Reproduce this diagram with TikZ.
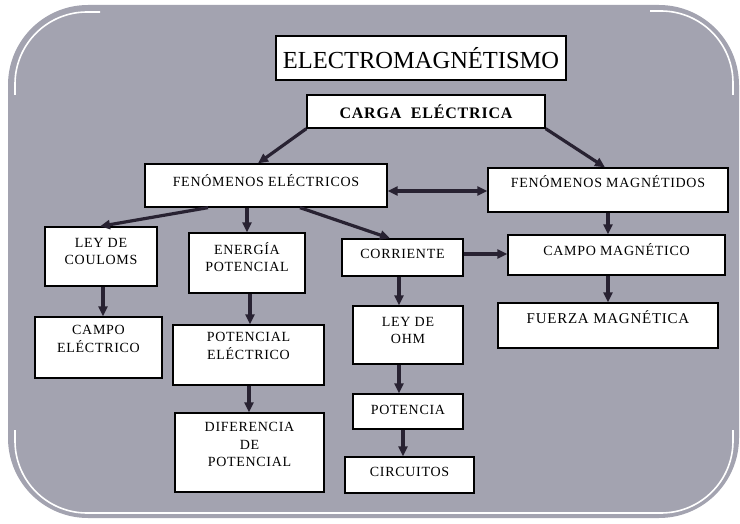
\documentclass[tikz,border=0pt]{standalone}
\usepackage{fontspec}
\setmainfont{Liberation Serif}
\newfontfamily\boxfont[LetterSpace=5]{Liberation Serif}
\usetikzlibrary{arrows.meta}
\definecolor{bggray}{RGB}{163,163,176}
\definecolor{arrcol}{RGB}{40,34,50}
\begin{document}
\begin{tikzpicture}[x=1pt,y=-1pt,
  box/.style={draw=black,line width=1.3pt,fill=white,rectangle,inner sep=0pt},
  lab/.style={align=center,font=\boxfont\fontsize{14}{17.5}\selectfont,text=black,inner sep=0pt},
  arr/.style={draw=arrcol,line width=3.2pt,-{Triangle[length=10pt,width=9pt]}},
  darr/.style={draw=arrcol,line width=3.2pt,{Triangle[length=10pt,width=9pt]}-{Triangle[length=10pt,width=9pt]}},
  hl/.style={draw=white,line width=1.6pt,rounded corners=72pt}]
\useasboundingbox (0,0) rectangle (740,524);
% background panel
\fill[bggray,rounded corners=80pt] (8,5) rectangle (739,518);
\draw[hl] (15,95) -- (15,12) -- (100,12);
\draw[hl] (650,11) -- (733,11) -- (733,95);
\draw[hl] (15,430) -- (15,513) -- (733,513) -- (733,430);

% boxes
\node[box,minimum width=290,minimum height=44,
  label={[lab,font=\fontsize{24.5}{27}\selectfont,yshift=0pt]center:{ELECTROMAGNÉTISMO}}] (EM) at (421,58) {};
\node[box,minimum width=238,minimum height=33,
  label={[lab,font=\boxfont\bfseries\fontsize{16}{18}\selectfont,yshift=0pt]center:{CARGA\ \ ELÉCTRICA}}] (CARGA) at (426,111.5) {};
\node[box,minimum width=242,minimum height=43,
  label={[lab,yshift=5pt]center:{FENÓMENOS ELÉCTRICOS}}] (FE) at (266,185.5) {};
\node[box,minimum width=240,minimum height=44,
  label={[lab,yshift=8pt]center:{FENÓMENOS MAGNÉTIDOS}}] (FM) at (608,190) {};
\node[box,minimum width=112,minimum height=59,
  label={[lab,yshift=5pt]center:{LEY DE\\COULOMS}}] (COUL) at (101,256.5) {};
\node[box,minimum width=116,minimum height=60,
  label={[lab,yshift=6pt]center:{ENERGÍA\\POTENCIAL}}] (ENER) at (247,263) {};
\node[box,minimum width=121,minimum height=37,
  label={[lab,yshift=3.5pt]center:{CORRIENTE}}] (CORR) at (402.5,257.5) {};
\node[box,minimum width=217,minimum height=40,
  label={[lab,yshift=5.5pt]center:{CAMPO MAGNÉTICO}}] (CMAG) at (616.5,255) {};
\node[box,minimum width=127,minimum height=61,
  label={[lab,yshift=8.5pt]center:{CAMPO\\ELÉCTRICO}}] (CELE) at (98.5,347.5) {};
\node[box,minimum width=151,minimum height=60,
  label={[lab,yshift=9pt]center:{POTENCIAL\\ELÉCTRICO}}] (POTE) at (248.5,355) {};
\node[box,minimum width=110,minimum height=58,
  label={[lab,yshift=4.5pt]center:{LEY DE\\OHM}}] (OHM) at (408,335) {};
\node[box,minimum width=220,minimum height=45,
  label={[lab,font=\boxfont\fontsize{15}{17}\selectfont,yshift=8.5pt]center:{FUERZA MAGNÉTICA}}] (FUER) at (608,325.5) {};
\node[box,minimum width=149,minimum height=79,
  label={[lab,yshift=8pt]center:{DIFERENCIA\\DE\\POTENCIAL}}] (DIF) at (249.5,452.5) {};
\node[box,minimum width=110,minimum height=35,
  label={[lab,yshift=1.5pt]center:{POTENCIA}}] (POTC) at (408,411.5) {};
\node[box,minimum width=129,minimum height=36,
  label={[lab,yshift=3pt]center:{CIRCUITOS}}] (CIRC) at (409.5,475) {};

% guide coordinates
\coordinate (v258) at (258,0);
\coordinate (v605) at (605,0);
\coordinate (v208) at (208,0);
\coordinate (v100) at (100,0);
\coordinate (v300) at (300,0);
\coordinate (v390) at (390,0);
\coordinate (v608) at (608,0);
\coordinate (v103) at (103,0);
\coordinate (v250) at (250,0);
\coordinate (v249) at (249,0);
\coordinate (v399) at (399,0);
\coordinate (v403) at (403,0);
\coordinate (h191) at (0,191);
\coordinate (h254) at (0,254);

% connectors
\draw[arr] (CARGA.south west) -- (FE.north -| v258);
\draw[arr] (CARGA.south east) -- (FM.north -| v605);
\draw[darr] (FE.east |- h191) -- (FM.west |- h191);
\draw[arr] (FE.south -| v208) -- (COUL.north -| v100);
\draw[arr] (FE.south -| ENER.north) -- (ENER.north);
\draw[arr] (FE.south -| v300) -- (CORR.north -| v390);
\draw[arr] (CORR.east |- h254) -- (CMAG.west |- h254);
\draw[arr] (FM.south -| v608) -- (CMAG.north -| v608);
\draw[arr] (CMAG.south -| v608) -- (FUER.north -| v608);
\draw[arr] (COUL.south -| v103) -- (CELE.north -| v103);
\draw[arr] (ENER.south -| v250) -- (POTE.north -| v250);
\draw[arr] (POTE.south -| v249) -- (DIF.north -| v249);
\draw[arr] (CORR.south -| v399) -- (OHM.north -| v399);
\draw[arr] (OHM.south -| v399) -- (POTC.north -| v399);
\draw[arr] (POTC.south -| v403) -- (CIRC.north -| v403);
\end{tikzpicture}
\end{document}
